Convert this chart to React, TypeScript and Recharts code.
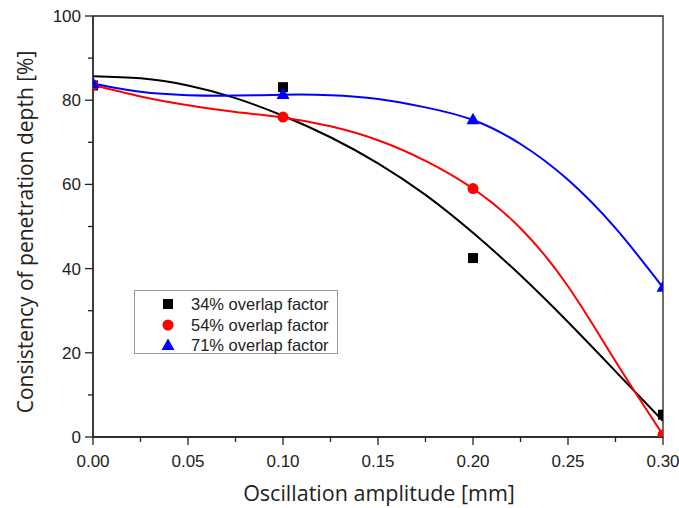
import React from "react";
import {
  ComposedChart, Line, Scatter, XAxis, YAxis, Legend, ReferenceArea,
} from "recharts";

// measured points
const amplitude = [0, 0.1, 0.2, 0.3];
const meas34 = [83.5, 83.1, 42.5, 5.3];
const meas54 = [83.6, 76, 59, 0.5];
const meas71 = [84, 81.5, 75.5, 35.7];

// fitted curves
const fitX = [0, 0.025, 0.05, 0.075, 0.1, 0.125, 0.15, 0.175, 0.2, 0.225, 0.25, 0.275, 0.3];
const fit34 = [85.7, 85.2, 83.5, 80.5, 76.3, 71.2, 65, 57.5, 48.5, 38.4, 27.3, 15.6, 3.8];
const fit54 = [83.6, 80.9, 78.8, 77.2, 75.9, 73.8, 70.5, 65.6, 59, 49.6, 35.8, 18, 0.5];
const fit71 = [84, 82, 81.2, 81.1, 81.3, 81.2, 80.3, 78.3, 75.3, 69.6, 61.1, 49.6, 35.5];

const xTicks = [0, 0.025, 0.05, 0.075, 0.1, 0.125, 0.15, 0.175, 0.2, 0.225, 0.25, 0.275, 0.3];
const yTicks = [0, 10, 20, 30, 40, 50, 60, 70, 80, 90, 100];

const series = [
  { name: "34% overlap factor", color: "#000000", shape: "square", meas: meas34, fit: fit34 },
  { name: "54% overlap factor", color: "#ff0000", shape: "circle", meas: meas54, fit: fit54 },
  { name: "71% overlap factor", color: "#0000ff", shape: "triangle", meas: meas71, fit: fit71 },
];

const AXIS = "#222";
const TICK_FONT = "'Liberation Sans', Arial, sans-serif";
const TITLE_FONT = "'Open Sans', sans-serif";

function Marker({ cx, cy, shape, color }: any) {
  if (cx == null || cy == null) return null;
  if (shape === "square") return <rect x={cx - 5} y={cy - 5} width={10} height={10} fill={color} />;
  if (shape === "circle") return <circle cx={cx} cy={cy} r={5.5} fill={color} />;
  return <polygon points={`${cx},${cy - 6.5} ${cx + 6.5},${cy + 5} ${cx - 6.5},${cy + 5}`} fill={color} />;
}

function XTick({ x, y, payload }: any) {
  const v = payload.value;
  const major = Math.abs(v * 20 - Math.round(v * 20)) < 1e-6;
  return (
    <g>
      <line x1={x} x2={x} y1={y} y2={y + (major ? 8 : 5)} stroke={AXIS} strokeWidth={1.3} />
      {major && (
        <text x={x} y={y + 30} textAnchor="middle" fontSize={17} fontFamily={TICK_FONT} fill="#222">
          {v.toFixed(2)}
        </text>
      )}
    </g>
  );
}

function YTick({ x, y, payload }: any) {
  const v = payload.value;
  const major = v % 20 === 0;
  return (
    <g>
      <line x1={x} x2={x - (major ? 8 : 5)} y1={y} y2={y} stroke={AXIS} strokeWidth={1.3} />
      {major && (
        <text x={x - 12} y={y + 6} textAnchor="end" fontSize={17} fontFamily={TICK_FONT} fill="#222">
          {v}
        </text>
      )}
    </g>
  );
}

function LegendBox() {
  return (
    <div style={{ border: "1px solid #999", width: 204, height: 64, boxSizing: "border-box", background: "#fff", padding: "3px 0 0 0" }}>
      {series.map((s) => (
        <div key={s.name} style={{ display: "flex", alignItems: "center", height: 20.5 }}>
          <svg width={56} height={16} style={{ flex: "none" }}>
            <Marker cx={33} cy={8} shape={s.shape} color={s.color} />
          </svg>
          <span style={{ fontFamily: TICK_FONT, fontSize: 16.5, color: "#222", lineHeight: "20px" }}>{s.name}</span>
        </div>
      ))}
    </div>
  );
}

export default function App() {
  return (
    <div style={{ position: "absolute", left: 0, top: 0, background: "#fff" }}>
      <ComposedChart width={679} height={508} margin={{ top: 16, right: 16, bottom: 0, left: 0 }}>
        <XAxis
          type="number"
          dataKey="x"
          domain={[0, 0.3]}
          ticks={xTicks}
          interval={0}
          allowDataOverflow
          height={71}
          tickSize={0}
          tickMargin={0}
          tickLine={false}
          tick={<XTick />}
          axisLine={{ stroke: AXIS, strokeWidth: 1.3 }}
          label={{
            content: () => (
              <text x={379} y={501} textAnchor="middle" fontSize={21.5} fontFamily={TITLE_FONT} fill="#222">
                Oscillation amplitude [mm]
              </text>
            ),
          }}
        />
        <YAxis
          type="number"
          dataKey="y"
          domain={[0, 100]}
          ticks={yTicks}
          interval={0}
          allowDataOverflow
          width={93}
          tickSize={0}
          tickMargin={0}
          tickLine={false}
          tick={<YTick />}
          axisLine={{ stroke: AXIS, strokeWidth: 1.3 }}
          label={{
            content: () => (
              <text x={25} y={232} transform="rotate(-90 25 232)" textAnchor="middle" dominantBaseline="central"
                fontSize={21} fontFamily={TITLE_FONT} fill="#222">
                Consistency of penetration depth [%]
              </text>
            ),
          }}
        />
        <ReferenceArea x1={0} x2={0.3} y1={0} y2={100} fill="none" stroke={AXIS} strokeWidth={1.3} />
        {series.map((s) => (
          <Line
            key={"fit" + s.name}
            data={fitX.map((x, i) => ({ x, y: s.fit[i] }))}
            dataKey="y"
            type="natural"
            stroke={s.color}
            strokeWidth={2}
            dot={false}
            activeDot={false}
            legendType="none"
            isAnimationActive={false}
          />
        ))}
        {series.map((s) => (
          <Scatter
            key={"pts" + s.name}
            name={s.name}
            data={amplitude.map((x, i) => ({ x, y: s.meas[i] }))}
            dataKey="y"
            fill={s.color}
            shape={(p: any) => <Marker cx={p.cx} cy={p.cy} shape={s.shape} color={s.color} />}
            isAnimationActive={false}
          />
        ))}
        <Legend
          layout="vertical"
          align="center"
          verticalAlign="middle"
          content={() => <LegendBox />}
          wrapperStyle={{ left: 134, top: 290, width: 204, height: 64, bottom: "auto", right: "auto" }}
        />
      </ComposedChart>
    </div>
  );
}
